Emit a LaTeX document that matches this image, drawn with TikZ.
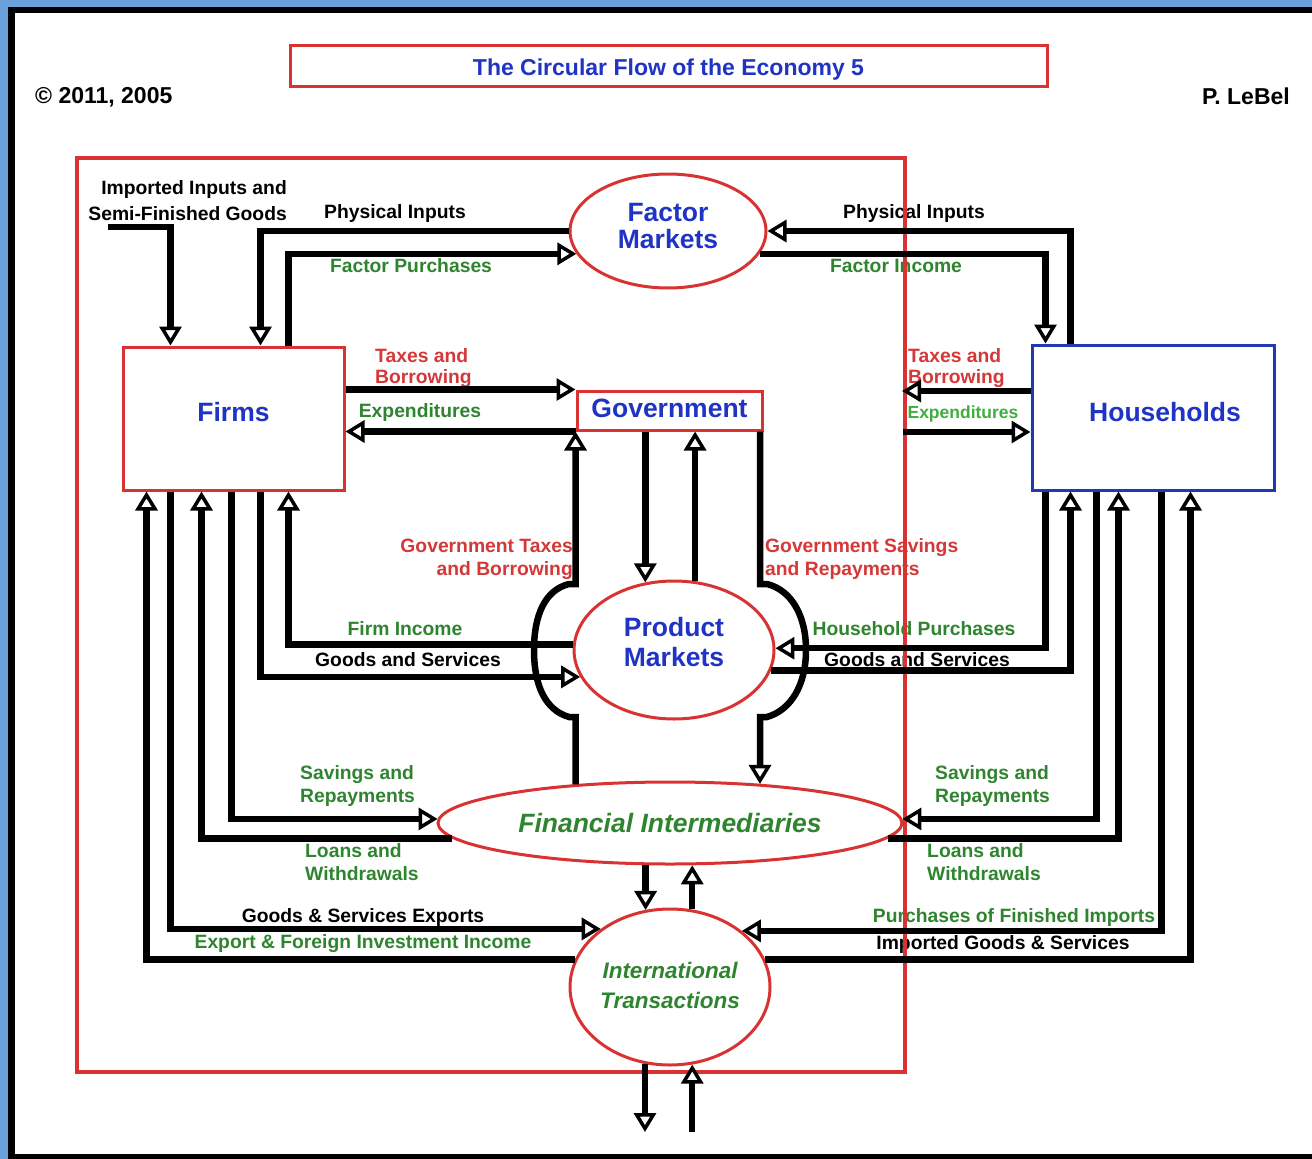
\documentclass[tikz,border=0pt]{standalone}
\usepackage{fontspec}
\setmainfont{Liberation Sans}
\usetikzlibrary{arrows.meta,shapes.geometric,calc}
\definecolor{frameblue}{HTML}{6AA0DC}
\definecolor{boxred}{HTML}{D93232}
\definecolor{txtblue}{HTML}{1F33C4}
\definecolor{hhblue}{HTML}{2238B0}
\definecolor{txtred}{HTML}{D43838}
\definecolor{txtgreen}{HTML}{2F842F}
\definecolor{ltgreen}{HTML}{3FAE3F}
\begin{document}
\begin{tikzpicture}[x=1pt,y=-1pt,
  flow/.style={line width=6.5pt, -{Triangle[fill=white, line width=3.5pt, length=19pt, width=22pt]}},
  rbox/.style={draw=boxred, line width=3pt, fill=white, inner sep=0pt},
  mkt/.style={ellipse, draw=boxred, line width=3pt, fill=white, inner sep=0pt},
  bigtxt/.style={font=\fontsize{26.5}{27}\selectfont\bfseries, text=txtblue},
  hdr/.style={font=\fontsize{23}{26}\selectfont\bfseries, inner sep=0pt},
  lbl/.style={font=\fontsize{19.3}{23}\selectfont\bfseries, inner sep=0pt},
  grn/.style={text=txtgreen},
  red/.style={text=txtred}]

% page frame
\fill[frameblue] (0,0) rectangle (1312,1159);
\fill[black] (8,7) rectangle (1312,1159);
\fill[white] (15,13) rectangle (1312,1154);
\useasboundingbox (0,0) rectangle (1312,1159);

% header
\node[rbox, minimum width=757pt, minimum height=41pt, font=\fontsize{23}{26}\selectfont\bfseries, text=txtblue]
  (title) at (668.5,65.5) {\raisebox{-9.5pt}[0pt][0pt]{The Circular Flow of the Economy 5}};
\node[hdr, anchor=west] (copy) at (35,97) {© 2011, 2005};
\node[hdr, anchor=east] (author) at (1290,96) {P. LeBel};

% flow labels
\node[lbl, anchor=east, align=right, font=\fontsize{19.3}{26}\selectfont\bfseries] (lImp) at (287,201) {Imported Inputs and\\Semi-Finished Goods};
\node[lbl] (lPhysL) at (395,214) {Physical Inputs};
\node[lbl, grn] (lFacP) at (411,266) {Factor Purchases};
\node[lbl] (lPhysR) at (914,214) {Physical Inputs};
\node[lbl, grn] (lFacI) at (896,266) {Factor Income};
\node[lbl, red, anchor=west, align=left, font=\fontsize{19.3}{21}\selectfont\bfseries] (lTaxL) at (375,368) {Taxes and\\Borrowing};
\node[lbl, grn] (lExpL) at (420,413) {Expenditures};
\node[lbl, red, anchor=west, align=left, font=\fontsize{19.3}{21}\selectfont\bfseries] (lTaxR) at (908,368) {Taxes and\\Borrowing};
\node[lbl, text=ltgreen, font=\fontsize{17.5}{21}\selectfont\bfseries] (lExpR) at (963,414) {Expenditures};
\node[lbl, red, anchor=east, align=right] (lGovT) at (573,559) {Government Taxes\\and Borrowing};
\node[lbl, red, anchor=west, align=left] (lGovS) at (765,559) {Government Savings\\and Repayments};
\node[lbl, grn] (lFirmI) at (405,629) {Firm Income};
\node[lbl] (lGSL) at (408,660) {Goods and Services};
\node[lbl, grn] (lHP) at (914,629) {Household Purchases};
\node[lbl] (lGSR) at (917,660) {Goods and Services};
\node[lbl, grn, anchor=west, align=left] (lSavL) at (300,786) {Savings and\\Repayments};
\node[lbl, grn, anchor=west, align=left] (lLoanL) at (305,862) {Loans and\\Withdrawals};
\node[lbl, grn, anchor=west, align=left] (lSavR) at (935,786) {Savings and\\Repayments};
\node[lbl, grn, anchor=west, align=left] (lLoanR) at (927,862) {Loans and\\Withdrawals};
\node[lbl] (lExport) at (363,917) {Goods \& Services Exports};
\node[lbl, grn] (lInc) at (363,944) {Export \& Foreign Investment Income};
\node[lbl, grn] (lPFI) at (1014,917) {Purchases of Finished Imports};
\node[lbl] (lIGS) at (1003,944) {Imported Goods \& Services};

% domestic economy boundary
\draw[boxred, line width=3.5pt] (77,158) rectangle (905,1072);

% sectors
\node[rbox, bigtxt, minimum width=221pt, minimum height=143pt] (firms) at (233.5,418.5) {\raisebox{-3pt}[0pt][0pt]{Firms}};
\node[draw=hhblue, line width=3pt, fill=white, inner sep=0pt, bigtxt, minimum width=242pt, minimum height=145pt] (hh) at (1153,417.5) {\raisebox{-4pt}[0pt][0pt]{\hspace*{24pt}Households}};
\node[rbox, bigtxt, minimum width=185pt, minimum height=39pt] (gov) at (669.5,410.5) {\raisebox{-7pt}[0pt][0pt]{Government}};

% markets
\node[mkt, bigtxt, minimum width=196pt, minimum height=114pt] (fm) at (668,231)
  {\raisebox{-5pt}[0pt][0pt]{\begin{tabular}{@{}c@{}}Factor\\Markets\end{tabular}}};
\node[mkt, bigtxt, font=\fontsize{26.5}{30}\selectfont\bfseries, minimum width=200pt, minimum height=138pt] (pm) at (674,650)
  {\raisebox{-2pt}[0pt][0pt]{\begin{tabular}{@{}c@{}}Product\\Markets\end{tabular}}};
\node[mkt, font=\fontsize{26.5}{30}\selectfont\bfseries\itshape, text=txtgreen, minimum width=464pt, minimum height=82pt] (fi) at (670,823)
  {Financial Intermediaries};
\node[mkt, font=\fontsize{22.5}{30}\selectfont\bfseries\itshape, text=txtgreen, minimum width=200pt, minimum height=156pt] (it) at (670,987)
  {\begin{tabular}{@{}c@{}}International\\Transactions\end{tabular}};

% free ends
\coordinate (imp) at (108,227);
\coordinate (gtax) at (902,391);
\coordinate (gexp) at (903,432);
\coordinate (outbase) at (0,1132);
\coordinate (gsr) at ($(gov.south east)+(-3.5,0)$);

% firms and factor markets
\draw[flow] (imp) -| ($(firms.north west)+(49,0)$);
\draw[flow] (fm.west) -| ($(firms.north west)+(139,0)$);
\draw[flow] ($(firms.north west)+(167,0)$) |- (fm.194);

% households and factor markets
\draw[flow] ($(hh.north west)+(40,0)$) |- (fm.east);
\draw[flow] (fm.-14) -| ($(hh.north west)+(15,0)$);

% government
\draw[flow] (firms.east |- gov.north west) -- (gov.north west);
\draw[flow] (gov.south west) -- (firms.east |- gov.south west);
\draw[flow] (hh.west |- gtax) -- (gtax);
\draw[flow] (gexp) -- (hh.west |- gexp);
\draw[flow] (gov.south -| pm.113) -- (pm.113);
\draw[flow] (pm.73) -- (gov.south -| pm.73);
\draw[flow] (gov.south west |- fi.158) -- (575.5,717) -- (569,717)
  .. controls (545,710) and (534,685) .. (534,650)
  .. controls (534,615) and (545,590) .. (569,584) -- (575.5,584) -- (gov.south west);
\draw[flow] (gsr) -- (760,584) -- (767,584)
  .. controls (791,590) and (806,615) .. (806,650)
  .. controls (806,685) and (791,710) .. (767,717) -- (760,717) -- (gsr |- fi.23);

% firms below
\draw[flow] (pm.177) -| ($(firms.south west)+(167,0)$);
\draw[flow] ($(firms.south west)+(139,0)$) |- (pm.196);
\draw[flow] ($(firms.south west)+(110,0)$) |- (fi.179);
\draw[flow] (fi.184) -| ($(firms.south west)+(80,0)$);
\draw[flow] ($(firms.south west)+(49,0)$) |- (it.140);
\draw[flow] (it.164) -| ($(firms.south west)+(25,0)$);

% households below
\draw[flow] ($(hh.south west)+(15,0)$) |- (pm.1);
\draw[flow] (pm.-12) -| ($(hh.south west)+(40,0)$);
\draw[flow] ($(hh.south west)+(66,0)$) |- (fi.1);
\draw[flow] (fi.-4) -| ($(hh.south west)+(88,0)$);
\draw[flow] ($(hh.south west)+(131,0)$) |- (it.38);
\draw[flow] (it.16) -| ($(hh.south west)+(160,0)$);

% financial intermediaries and the rest of the world
\draw[flow] (fi.240) -- (fi.240 |- it.108);
\draw[flow] (it.74) -- (it.74 |- fi.-62);
\draw[flow] (it.252) -- (it.252 |- outbase);
\draw[flow] (it.286 |- outbase) -- (it.286);
\end{tikzpicture}
\end{document}
